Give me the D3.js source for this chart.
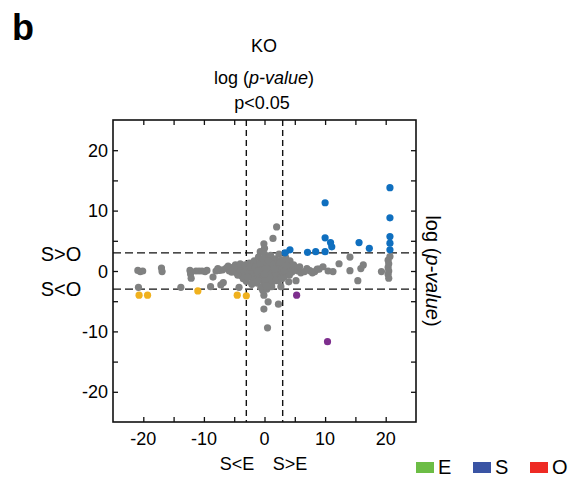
<!DOCTYPE html>
<html>
<head>
<meta charset="utf-8">
<script src="https://cdn.jsdelivr.net/npm/d3@7"></script>
<style>
  html, body { margin: 0; padding: 0; background: #fff; }
  svg text { font-family: Arial, "Liberation Sans", sans-serif; fill: #000; }
</style>
</head>
<body>
<svg id="chart" width="583" height="477"></svg>
<script>
// log(p-value) for S vs E (x) and S vs O (y), KO sample
const grayPoints = [
  [-20.9,0.1],[-20.5,-0.1],[-20.1,0.0],[-20.8,-2.7],
  [-17.0,0.5],[-16.9,-0.1],
  [-12.3,0.1],[-12.2,-0.5],[-12.1,-1.2],
  [-11.3,0.0],[-10.8,0.0],[-10.3,0.0],[-9.8,-0.1],[-9.5,0.1],
  [-13.8,-2.7],[-8.9,-2.6],
  [-8.5,-1.0],[-8.0,0.0],[-7.4,0.1],[-7.2,-2.3],[-6.8,-1.9],
  [-6.3,0.5],[-5.8,0.0],[-5.4,-0.2],[-5.0,0.1],[-4.6,-0.3],[-4.2,-2.7],[-4.2,0.4],[-3.8,-0.8],[-3.6,0.6],
  [-7.7,0.4],[-6.9,0.2],[-6.0,0.8],[-5.2,0.6],[-4.8,1.0],[-4.4,-0.7],[-4.0,1.2],[-3.9,0.0],[-3.5,-1.3],
  [-3.3,-0.2],[-3.2,1.0],[-3.0,-1.7],[-2.9,0.2],[-2.6,-0.6],[-2.5,1.3],[-2.2,0.0],[-2.0,-1.2],[-1.9,0.8],
  [-1.7,1.7],[-1.6,-0.4],[-1.4,0.3],[-1.3,-2.0],[-1.2,1.2],[-1.0,2.3],[-1.0,-0.9],[-0.8,0.5],[-0.7,3.2],
  [-0.6,-0.2],[-0.5,1.8],[-0.4,-1.5],[-0.3,0.9],[-0.2,-2.4],[-0.1,4.5],[0.0,3.75],[0.0,2.8],[0.1,0.2],
  [0.2,-0.8],[0.3,1.5],[0.4,-3.0],[0.5,2.2],[0.6,0.6],[0.7,-1.2],[0.8,1.0],[0.9,-0.3],[1.0,2.6],[1.1,-2.1],
  [1.2,0.4],[1.3,1.6],[1.4,5.4],[1.5,-0.6],[1.6,0.9],[1.7,-1.6],[1.8,2.0],[2.0,7.3],[2.0,0.1],[2.1,-0.9],
  [2.2,1.3],[2.3,-5.5],[2.4,2.8],[2.5,-0.3],[2.6,0.7],[2.7,-2.6],[2.8,1.8],[3.0,-0.2],[3.1,0.5],[3.2,-1.0],
  [3.4,1.2],[3.5,2.2],[3.6,-0.4],[3.8,0.2],[4.0,-1.8],[4.2,1.7],[4.3,0.6],[4.5,-0.2],[4.8,1.0],[5.0,0.2],
  [5.2,-1.6],[5.5,0.0],[5.8,0.7],[6.0,-0.3],
  [-1.5,-0.1],[-0.9,-0.6],[-0.5,0.3],[0.2,-1.9],[0.5,-0.4],[1.0,0.1],[1.5,-1.2],[0.3,1.0],[-0.2,-1.0],
  [-2.4,-0.2],[-1.8,0.1],[-0.1,-4.0],[0.8,-1.6],[-0.3,-3.2],
  [-2.8,-1.0],[-2.3,0.7],[-2.1,-2.2],[-1.5,0.6],[-1.1,-1.6],[-0.7,1.3],[-0.6,-2.7],[-0.2,2.0],[0.1,-1.4],
  [0.3,-2.4],[0.6,1.7],[0.9,-0.9],[1.2,-2.6],[1.4,1.1],[1.8,-0.3],[2.1,0.6],[2.3,-1.6],[2.6,1.4],
  [2.9,-1.3],[3.3,0.0],[3.7,0.9],[4.1,-0.7],[-0.4,0.0],[0.0,-0.5],[0.4,0.4],[-1.2,0.0],[1.7,0.3],
  [-0.1,-6.3],[0.6,-5.1],[0.5,-9.4],
  [6.6,-0.1],[7.0,0.4],[7.5,0.05],[7.9,-0.3],[8.3,-0.1],[8.7,0.3],[9.0,0.3],[9.65,0.7],[10.5,0.0],
  [11.3,-0.1],[12.3,1.2],[14.1,2.3],
  [14.1,0.05],[15.4,-1.6],[15.9,0.4],[16.3,1.0],[19.3,-0.1],
  [20.4,1.8],[20.5,1.2],[20.4,0.6],[20.5,0.0],[20.4,-0.6],[20.5,-1.2],[20.7,2.4]
];
const bluePoints = [
  [20.7,13.8],[10.0,11.3],[20.7,8.8],[10.0,5.5],[20.7,5.7],[10.9,4.7],[11.1,4.0],[20.7,4.6],
  [15.6,4.7],[17.3,3.75],[20.7,3.5],[10.0,3.2],[8.45,3.2],[7.1,3.1],[4.2,3.5],[3.4,3.0]
];
const orangePoints = [[-20.7,-4.0],[-19.3,-4.0],[-11.0,-3.3],[-4.5,-4.0],[-3.0,-4.1]];
const purplePoints = [[5.3,-4.0],[10.4,-11.7]];

const thresholds = [-3, 3];
const majorTicks = [-20, -10, 0, 10, 20];
const minorTicks = [-20, -15, -10, -5, 0, 5, 10, 15, 20];
const legendItems = [["E", "#6cbd45"], ["S", "#3a54a4"], ["O", "#ee2a24"]];

const svg = d3.select("#chart");
const x = d3.scaleLinear().domain([-25, 25]).range([113, 416]);
const y = d3.scaleLinear().domain([-25, 25]).range([422, 120]);

// panel letter and titles
svg.append("text").attr("x", 12).attr("y", 40).attr("font-size", 36).attr("font-weight", "bold").text("b");
svg.append("text").attr("x", 264).attr("y", 52).attr("text-anchor", "middle").attr("font-size", 18).text("KO");
const t2 = svg.append("text").attr("x", 264).attr("y", 84).attr("text-anchor", "middle").attr("font-size", 18);
t2.append("tspan").text("log (");
t2.append("tspan").attr("font-style", "italic").text("p-value");
t2.append("tspan").text(")");
svg.append("text").attr("x", 262).attr("y", 109).attr("text-anchor", "middle").attr("font-size", 18).text("p<0.05");

// threshold lines
const g = svg.append("g");
g.selectAll("line.v").data(thresholds).join("line")
  .attr("x1", d => x(d)).attr("x2", d => x(d)).attr("y1", y(25)).attr("y2", y(-25))
  .attr("stroke", "#111").attr("stroke-width", 1.4).attr("stroke-dasharray", "6,4");
g.selectAll("line.h").data(thresholds).join("line")
  .attr("y1", d => y(d)).attr("y2", d => y(d)).attr("x1", x(-25)).attr("x2", x(25))
  .attr("stroke", "#111").attr("stroke-width", 1.4).attr("stroke-dasharray", "8,4");

// points
function dots(data, color) {
  svg.append("g").selectAll("circle").data(data).join("circle")
    .attr("cx", d => x(d[0])).attr("cy", d => y(d[1])).attr("r", 3.6).attr("fill", color);
}
dots(grayPoints, "#808181");
dots(orangePoints, "#f0b11e");
dots(purplePoints, "#7e2f8e");
dots(bluePoints, "#0f6fbf");

// axes with inward ticks on all four sides
const tl = 5;
svg.append("g").attr("transform", `translate(0,${y(-25)})`)
  .call(d3.axisTop(x).tickValues(minorTicks).tickSize(tl).tickFormat(""));
svg.append("g").attr("transform", `translate(0,${y(25)})`)
  .call(d3.axisBottom(x).tickValues(minorTicks).tickSize(tl).tickFormat(""));
svg.append("g").attr("transform", `translate(${x(-25)},0)`)
  .call(d3.axisRight(y).tickValues(minorTicks).tickSize(tl).tickFormat(""));
svg.append("g").attr("transform", `translate(${x(25)},0)`)
  .call(d3.axisLeft(y).tickValues(minorTicks).tickSize(tl).tickFormat(""));
svg.selectAll(".domain").remove();
svg.selectAll(".tick line").attr("stroke", "#111").attr("stroke-width", 1.3);

svg.append("rect").attr("x", x(-25)).attr("y", y(25))
  .attr("width", x(25) - x(-25)).attr("height", y(-25) - y(25))
  .attr("fill", "none").attr("stroke", "#111").attr("stroke-width", 1.6);

// tick labels
svg.append("g").selectAll("text").data(majorTicks).join("text")
  .attr("x", d => x(d)).attr("y", 445).attr("text-anchor", "middle").attr("font-size", 18)
  .text(d => d);
svg.append("g").selectAll("text").data(majorTicks).join("text")
  .attr("x", 108).attr("y", d => y(d) + 6.5).attr("text-anchor", "end").attr("font-size", 18)
  .text(d => d);

// region labels
svg.append("text").attr("x", 61).attr("y", 261).attr("text-anchor", "middle").attr("font-size", 20).text("S>O");
svg.append("text").attr("x", 61).attr("y", 296).attr("text-anchor", "middle").attr("font-size", 20).text("S<O");
svg.append("text").attr("x", 237).attr("y", 470).attr("text-anchor", "middle").attr("font-size", 18).text("S<E");
svg.append("text").attr("x", 290).attr("y", 470).attr("text-anchor", "middle").attr("font-size", 18).text("S>E");

// right axis title
const rt = svg.append("text").attr("transform", "translate(426,271) rotate(90)")
  .attr("text-anchor", "middle").attr("font-size", 20);
rt.append("tspan").text("log (");
rt.append("tspan").attr("font-style", "italic").text("p-value");
rt.append("tspan").text(")");

// legend
const lg = svg.append("g").selectAll("g").data(legendItems).join("g")
  .attr("transform", (d, i) => `translate(${416 + i * 57},462)`);
lg.append("rect").attr("width", 18).attr("height", 11).attr("fill", d => d[1]);
lg.append("text").attr("x", 22).attr("y", 12).attr("font-size", 20).text(d => d[0]);
</script>
</body>
</html>
